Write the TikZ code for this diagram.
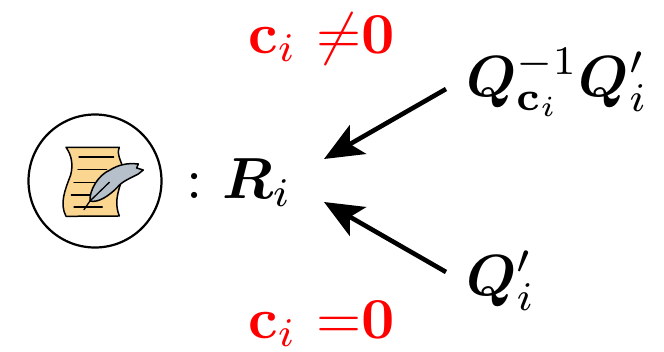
\documentclass[tikz,border=0pt]{standalone}
\usepackage{amsmath}
\usepackage{bm}
\usetikzlibrary{arrows.meta}
\definecolor{paper}{RGB}{250,214,145}
\definecolor{quill}{RGB}{182,192,202}
\tikzset{
  mathlabel/.style={inner sep=0pt,outer sep=0pt,scale=5.8},
  redlabel/.style={mathlabel,text=red},
  bigarrow/.style={line width=4.6pt,-{Stealth[length=39pt,width=33pt,inset=9pt]}},
  detail/.style={line width=1.3pt,line cap=round}
}
\begin{document}
\begin{tikzpicture}[x=1pt,y=-1pt]
\useasboundingbox (0,0) rectangle (664,351);
\node[circle,draw,line width=2.2pt,minimum size=133pt,inner sep=0pt] (seal) at (95,181) {};
\begin{scope}[shift={(10,100)},x=0.3333pt,y=-0.3333pt]
\draw[fill=paper,line width=1.5pt,line join=round]
  (168,142) -- (328,142) .. controls (318,165) and (338,190) .. (340,210) .. controls (342,245) and (305,290) .. (328,348)
  -- (168,349) .. controls (148,310) and (165,270) .. (182,225) .. controls (190,195) and (185,165) .. (168,142) -- cycle;
\foreach \xa/\xb/\yy in {207/311/171,204/290/209,192/268/247,184/240/285,192/277/321}
  \draw[detail] (\xa,\yy) -- (\xb,\yy);
\draw[fill=quill,line width=1.5pt,line join=round]
  (240,303) .. controls (238,270) and (265,225) .. (300,210) .. controls (325,195) and (350,188) .. (385,192)
  -- (380,204) -- (400,210) -- (385,222) .. controls (360,235) and (335,245) .. (322,262) .. controls (300,285) and (265,310) .. (240,303) -- cycle;
\draw[detail] (222,329) -- (240,303) -- (298,247);
\end{scope}
\node[mathlabel,anchor=base] (colon) at (195,198) {$\mathbf{:}$};
\node[mathlabel,anchor=base west] (r) at (222,198) {$\boldsymbol{R}_i$};
\node[redlabel,anchor=base west] (top) at (248,53) {$\mathbf{c}_i\ {\neq}\mathbf{0}$};
\node[redlabel,anchor=base west] (bottom) at (248,338) {$\mathbf{c}_i\ {=}\mathbf{0}$};
\node[mathlabel,anchor=base west] (qa) at (466,96) {$\boldsymbol{Q}_{\mathbf{c}_i}^{-1}\boldsymbol{Q}_i'$};
\node[mathlabel,anchor=base west] (qb) at (466,295) {$\boldsymbol{Q}_i'$};
\coordinate (afrom) at (446,89);
\coordinate (ato) at (324,159);
\coordinate (bfrom) at (446,272);
\coordinate (bto) at (324,202);
\draw[bigarrow] (afrom) -- (ato);
\draw[bigarrow] (bfrom) -- (bto);
\end{tikzpicture}
\end{document}
